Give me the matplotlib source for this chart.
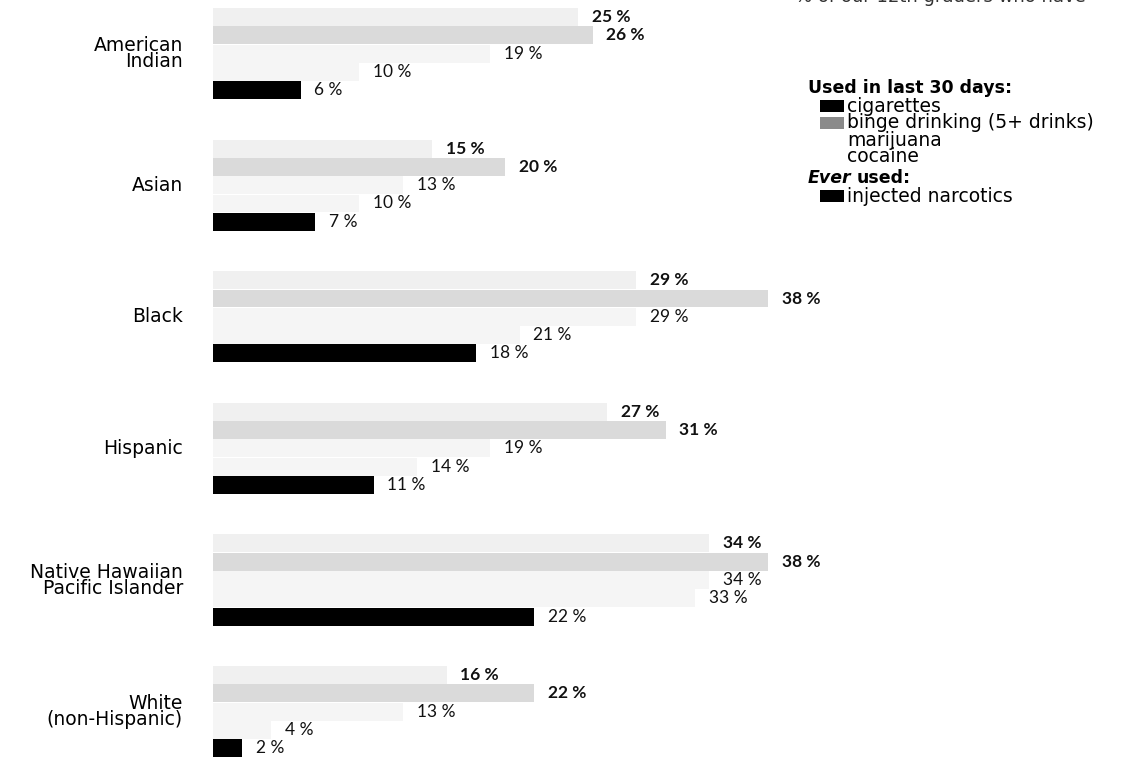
import matplotlib
matplotlib.use("Agg")
import matplotlib.pyplot as plt
from matplotlib.patches import Rectangle

# Values (percent)
groups = ["American\nIndian", "Asian", "Black", "Hispanic",
          "Native Hawaiian\nPacific Islander", "White\n(non-Hispanic)"]
series = ["cigarettes", "binge drinking (5+ drinks)", "marijuana", "cocaine",
          "injected narcotics"]
cigarettes = [25, 15, 29, 27, 34, 16]
binge = [26, 20, 38, 31, 38, 22]
marijuana = [19, 13, 29, 19, 34, 13]
cocaine = [10, 10, 21, 14, 33, 4]
injected = [6, 7, 18, 11, 22, 2]

values = [cigarettes, binge, marijuana, cocaine, injected]
bar_colors = ["#f0f0f0", "#dadada", "#f5f5f5", "#f5f5f5", "black"]
label_weights = ["bold", "bold", "normal", "normal", "normal"]

W, H = 1147, 759
fig = plt.figure(figsize=(W / 100, H / 100), dpi=100)
fig.patch.set_facecolor("white")

px_per_pct = 14.6
x0 = 213
ax = fig.add_axes([x0 / W, 0, (W - x0) / W, 1])
ax.set_xlim(0, (W - x0) / px_per_pct)
row_px = 18.3
first_px = 17
ax.set_ylim((H - first_px) / row_px, -first_px / row_px)
ax.axis("off")

group_step = 131.6 / row_px
label_font = ["Lato", "DejaVu Sans"]
main_font = ["DejaVu Sans"]

for g, name in enumerate(groups):
    base = g * group_step
    for r, vals in enumerate(values):
        y = base + r
        ax.barh(y, vals[g], height=0.98, color=bar_colors[r], edgecolor="none")
        ax.text(vals[g] + 0.95, y, f"{vals[g]} %", va="center", ha="left",
                fontsize=12.5, fontweight=label_weights[r], family=label_font,
                color="#111111")
    ax.text(-30 / px_per_pct, base + 2, name, ha="right", va="center",
            fontsize=13.5, family=main_font, linespacing=0.8, clip_on=False)

# header, cut off by the top edge of the scan
fig.text(795 / W, 1 + 3 / H, "% of our 12th graders who have", ha="left",
         va="center", fontsize=13, family=main_font, color="#333333")

# legend drawn by hand, as in the scan
def fx(px):
    return px / W

def fy(py):
    return 1 - py / H

fig.text(fx(808), fy(88), "Used in last 30 days:", fontsize=12.5,
         fontweight="bold", family=main_font, va="center")
legend_swatch = ["black", "#8a8a8a", "white", "white"]
for i, lab in enumerate(series[:4]):
    yy = 106 + i * 17
    fig.patches.append(Rectangle((fx(820), fy(yy + 6)), 24 / W, 12 / H,
                                 transform=fig.transFigure,
                                 facecolor=legend_swatch[i], edgecolor="none"))
    fig.text(fx(847), fy(yy), lab, fontsize=13.5, family=main_font, va="center")

ever = fig.text(fx(808), fy(178), "Ever", fontsize=12.5, fontstyle="italic",
                fontweight="bold", family=main_font, va="center")
fig.canvas.draw()
bb = ever.get_window_extent()
fig.text(bb.x1 / W + 5 / W, fy(178), "used:", fontsize=12.5, fontweight="bold",
         family=main_font, va="center")
fig.patches.append(Rectangle((fx(820), fy(196 + 6)), 24 / W, 12 / H,
                             transform=fig.transFigure,
                             facecolor="black", edgecolor="none"))
fig.text(fx(847), fy(196), series[4], fontsize=13.5, family=main_font,
         va="center")

fig.savefig("out.png", dpi=100)
